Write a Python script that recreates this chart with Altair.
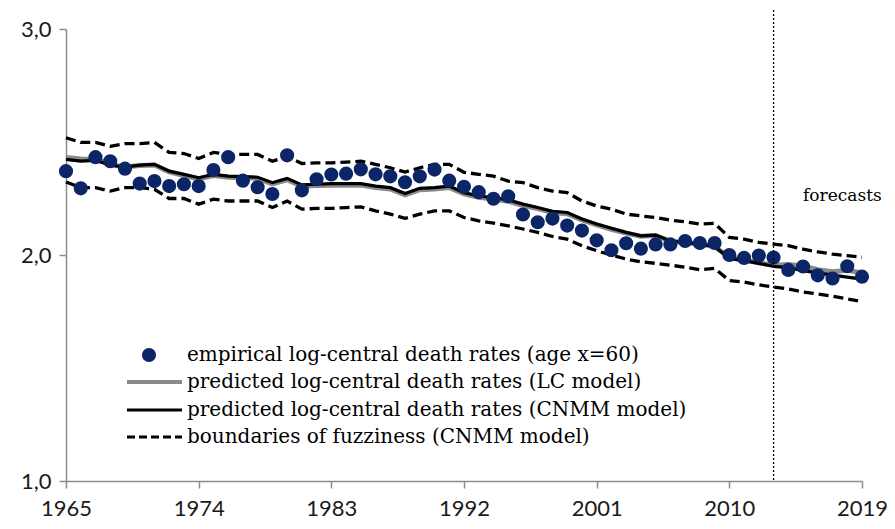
import altair as alt
import pandas as pd

years = list(range(1965, 2020))

empirical = [2.371, 2.295, 2.433, 2.415, 2.382, 2.316, 2.327, 2.305, 2.313, 2.305,
             2.376, 2.433, 2.329, 2.300, 2.270, 2.441, 2.286, 2.335, 2.356, 2.360,
             2.379, 2.357, 2.348, 2.322, 2.348, 2.378, 2.329, 2.302, 2.278, 2.249,
             2.260, 2.179, 2.145, 2.161, 2.130, 2.108, 2.065, 2.021, 2.052, 2.028,
             2.047, 2.047, 2.062, 2.053, 2.053, 2.000, 1.987, 1.998, 1.989, 1.934,
             1.949, 1.910, 1.896, 1.950, 1.904]

lc_model = [2.432, 2.425, 2.424, 2.400, 2.389, 2.396, 2.398, 2.368, 2.352, 2.337,
            2.352, 2.344, 2.342, 2.339, 2.315, 2.333, 2.304, 2.307, 2.309, 2.309,
            2.310, 2.299, 2.292, 2.266, 2.289, 2.292, 2.299, 2.270, 2.255, 2.248,
            2.238, 2.219, 2.205, 2.188, 2.183, 2.155, 2.133, 2.114, 2.097, 2.083,
            2.086, 2.061, 2.055, 2.048, 2.038, 1.988, 1.978, 1.966, 1.955, 1.958,
            1.952, 1.935, 1.926, 1.932, 1.921]

cnmm_model = [2.423, 2.415, 2.419, 2.398, 2.389, 2.398, 2.401, 2.371, 2.357, 2.342,
              2.357, 2.349, 2.347, 2.344, 2.320, 2.339, 2.310, 2.313, 2.316, 2.316,
              2.316, 2.305, 2.298, 2.272, 2.295, 2.298, 2.305, 2.276, 2.261, 2.254,
              2.244, 2.225, 2.210, 2.193, 2.188, 2.159, 2.137, 2.118, 2.100, 2.085,
              2.088, 2.062, 2.056, 2.048, 2.038, 1.985, 1.975, 1.963, 1.950, 1.944,
              1.931, 1.921, 1.911, 1.902, 1.893]

upper_bound = [2.519, 2.498, 2.498, 2.481, 2.493, 2.493, 2.498, 2.454, 2.449, 2.427,
               2.454, 2.445, 2.445, 2.445, 2.415, 2.436, 2.405, 2.408, 2.408, 2.411,
               2.415, 2.401, 2.386, 2.367, 2.386, 2.401, 2.401, 2.366, 2.357, 2.349,
               2.327, 2.320, 2.298, 2.283, 2.276, 2.239, 2.217, 2.203, 2.181, 2.173,
               2.166, 2.154, 2.147, 2.137, 2.140, 2.078, 2.070, 2.056, 2.048, 2.041,
               2.026, 2.014, 2.004, 1.997, 1.990]

lower_bound = [2.323, 2.298, 2.298, 2.283, 2.298, 2.298, 2.291, 2.250, 2.250, 2.225,
               2.247, 2.239, 2.239, 2.239, 2.210, 2.239, 2.203, 2.206, 2.206, 2.210,
               2.213, 2.195, 2.181, 2.162, 2.181, 2.195, 2.195, 2.166, 2.151, 2.141,
               2.129, 2.115, 2.100, 2.082, 2.070, 2.041, 2.019, 2.000, 1.982, 1.970,
               1.963, 1.955, 1.946, 1.935, 1.941, 1.887, 1.880, 1.868, 1.858, 1.850,
               1.836, 1.828, 1.818, 1.806, 1.794]

x_ticks = [1965, 1974, 1983, 1992, 2001, 2010, 2019]
y_ticks = [1.0, 2.0, 3.0]
forecast_start = 2013
forecast_label = "forecasts"

legend_labels = [
    "empirical log-central death rates (age x=60)",
    "predicted log-central death rates (LC model)",
    "predicted log-central death rates (CNMM model)",
    "boundaries of fuzziness (CNMM model)",
]
legend_py = [326, 353, 381, 408]

df = pd.DataFrame({
    "year": years,
    "emp": empirical,
    "lc": lc_model,
    "cnmm": cnmm_model,
    "up": upper_bound,
    "lo": lower_bound,
})

DOT = "#0b2566"
AX = "#8c8c8c"
LABEL_FONT = "Lato"
SERIF = "DejaVu Serif"
W, H = 796, 452

xs = alt.Scale(domain=[1965, 2019], nice=False, zero=False)
ys = alt.Scale(domain=[1.0, 3.0], nice=False, zero=False)

x_axis = alt.Axis(values=x_ticks, format="d", title=None, grid=False, labelFlush=False,
                  domainColor=AX, domainWidth=1.5, tickColor=AX, tickWidth=1.5,
                  tickSize=7, labelPadding=10, labelFont=LABEL_FONT, labelFontSize=22,
                  labelColor="#1a1a1a")
y_axis = alt.Axis(values=y_ticks, title=None, grid=False, labelFlush=False,
                  labelExpr="replace(format(datum.value, '.1f'), '.', ',')",
                  domainColor=AX, domainWidth=1.5, tickColor=AX, tickWidth=1.5,
                  tickSize=7, labelPadding=8, labelFont=LABEL_FONT, labelFontSize=22,
                  labelColor="#1a1a1a")

base = alt.Chart(df)

DASH = [10, 5]
upper = base.mark_line(color="black", strokeWidth=3.3, strokeDash=DASH).encode(
    x=alt.X("year:Q", scale=xs, axis=x_axis),
    y=alt.Y("up:Q", scale=ys, axis=y_axis),
)
lower = base.mark_line(color="black", strokeWidth=3.3, strokeDash=DASH).encode(
    x=alt.X("year:Q", scale=xs), y=alt.Y("lo:Q", scale=ys))
lc = base.mark_line(color="#8a8a8a", strokeWidth=5).encode(
    x=alt.X("year:Q", scale=xs), y=alt.Y("lc:Q", scale=ys))
cnmm = base.transform_filter(alt.datum.year <= forecast_start).mark_line(
    color="black", strokeWidth=3.2).encode(
    x=alt.X("year:Q", scale=xs), y=alt.Y("cnmm:Q", scale=ys))
cnmm_fc = base.transform_filter(alt.datum.year >= forecast_start).mark_line(
    color="black", strokeWidth=3.2).encode(
    x=alt.X("year:Q", scale=xs), y=alt.Y("cnmm:Q", scale=ys))
dots = base.mark_circle(size=200, color=DOT, opacity=1).encode(
    x=alt.X("year:Q", scale=xs), y=alt.Y("emp:Q", scale=ys))

vline = alt.Chart(pd.DataFrame({"year": [forecast_start]})).mark_rule(
    color="black", strokeWidth=1.3, strokeDash=[2, 2]).encode(
    x=alt.X("year:Q", scale=xs), y=alt.value(-19), y2=alt.value(H))

fc_text = alt.Chart(pd.DataFrame({"year": [2015.0], "v": [2.26], "t": [forecast_label]})).mark_text(
    align="left", baseline="middle", font=SERIF, fontSize=17, color="black").encode(
    x=alt.X("year:Q", scale=xs), y=alt.Y("v:Q", scale=ys), text="t:N")

leg_df = pd.DataFrame({"label": legend_labels, "py": legend_py})
leg_text = alt.Chart(leg_df).mark_text(
    align="left", baseline="middle", font=SERIF, fontSize=20, color="black").encode(
    x=alt.value(121), y=alt.Y("py:Q", scale=None), text="label:N")
leg_dot = alt.Chart(leg_df.iloc[[0]]).mark_circle(size=200, color=DOT, opacity=1).encode(
    x=alt.value(83), y=alt.Y("py:Q", scale=None))
leg_lc = alt.Chart(leg_df.iloc[[1]]).mark_rule(color="#8a8a8a", strokeWidth=4).encode(
    x=alt.value(61), x2=alt.value(116), y=alt.Y("py:Q", scale=None))
leg_cnmm = alt.Chart(leg_df.iloc[[2]]).mark_rule(color="black", strokeWidth=3.2).encode(
    x=alt.value(61), x2=alt.value(116), y=alt.Y("py:Q", scale=None))
leg_bd = alt.Chart(leg_df.iloc[[3]]).mark_rule(color="black", strokeWidth=3, strokeDash=[8, 4]).encode(
    x=alt.value(61), x2=alt.value(116), y=alt.Y("py:Q", scale=None))

chart = alt.layer(
    upper, lower, lc, cnmm, cnmm_fc, dots, vline, fc_text,
    leg_lc, leg_cnmm, leg_bd, leg_dot, leg_text,
).properties(
    width=W, height=H,
    padding={"left": 58, "top": 21, "right": 25, "bottom": 40},
    autosize=alt.AutoSizeParams(type="none"),
    background="white",
).configure_view(stroke=None)

chart.save("out.html", embed_options={"renderer": "svg", "actions": False})
